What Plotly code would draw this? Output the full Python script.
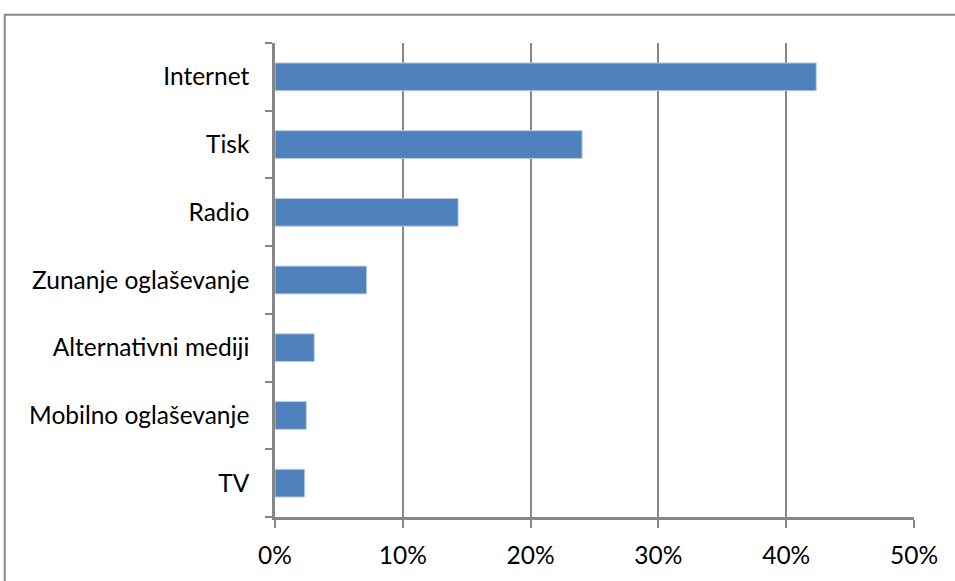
import plotly.graph_objects as go

categories = ["Internet", "Tisk", "Radio", "Zunanje oglaševanje", "Alternativni mediji", "Mobilno oglaševanje", "TV"]
values = [0.4235, 0.2403, 0.1433, 0.0717, 0.0307, 0.0245, 0.0232]
x_ticks = [0, 0.1, 0.2, 0.3, 0.4, 0.5]
x_tick_labels = ["0%", "10%", "20%", "30%", "40%", "50%"]

W, H = 955, 581
L, R, T, B = 275, 914.5, 43, 523

fig = go.Figure(go.Bar(
    y=categories, x=values, orientation="h",
    marker=dict(color="#4F81BD", line=dict(color="#B8CCE4", width=1)),
    width=0.41,
))

font = dict(family="Lato, 'Open Sans', sans-serif", size=24.5, color="#000000")
fig.update_layout(
    width=W, height=H,
    margin=dict(l=L, r=W - R, t=T, b=H - B, pad=0),
    paper_bgcolor="white", plot_bgcolor="white",
    showlegend=False,
    font=font,
    xaxis=dict(
        range=[0, 0.5], tickvals=x_ticks, ticktext=x_tick_labels,
        showgrid=True, gridcolor="#878787", gridwidth=1.5,
        showline=True, linecolor="#878787", linewidth=2.5,
        ticks="outside", ticklen=8, tickcolor="#878787", tickwidth=1.5,
        zeroline=False, ticklabelstandoff=7, tickfont=font,
    ),
    yaxis=dict(
        categoryorder="array", categoryarray=categories[::-1],
        range=[-0.5, 6.5],
        showgrid=False, showline=True, linecolor="#878787", linewidth=2.5,
        ticks="outside", ticklen=7, tickcolor="#878787", tickwidth=2,
        tickson="boundaries", ticklabelstandoff=18, tickfont=font,
        zeroline=False,
    ),
)

# outer chart frame (left and top edges visible)
pw, ph = R - L, B - T
fig.add_shape(type="rect", xref="paper", yref="paper",
              x0=(4.5 - L) / pw, x1=(W + 20 - L) / pw,
              y0=(B - (H + 20)) / ph, y1=(B - 14.5) / ph,
              line=dict(color="#898989", width=2), layer="below")

fig.write_html(
    "out.html",
    config={"displayModeBar": False},
    post_script="document.body.style.margin='0';document.body.style.overflow='hidden';",
)
